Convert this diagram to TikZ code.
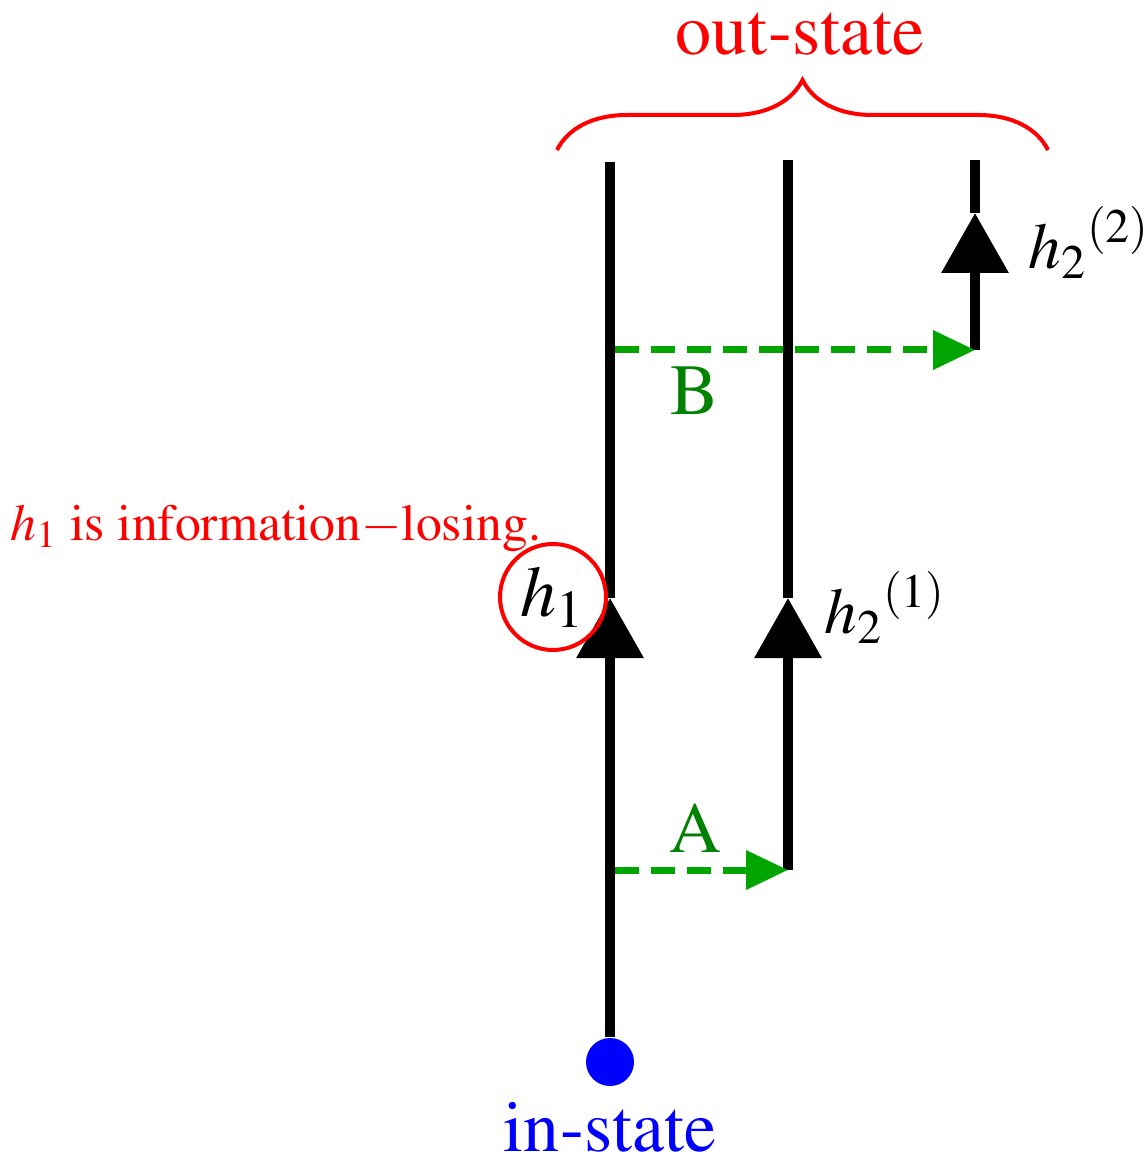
\documentclass[tikz,border=0pt]{standalone}
\usepackage[T1]{fontenc}
\usepackage{mathptmx}
\usetikzlibrary{arrows.meta,decorations.pathreplacing}
\definecolor{jumpgreen}{RGB}{0,165,0}
\definecolor{labelgreen}{RGB}{0,130,0}

\tikzset{
  worldline/.style={line width=1mm, black},
  flowhead/.style={-{Triangle[length=6mm,width=6.5mm]}},
  jump/.style={jumpgreen, line width=0.7mm, dash pattern=on 2.4mm off 1.2mm, -{Triangle[length=4.2mm,width=3.8mm]}},
  biglabel/.style={font=\fontsize{20.5}{24}\selectfont},
  hlabel/.style={font=\fontsize{18.5}{22}\selectfont, anchor=west, inner sep=0pt},
}

\begin{document}
\begin{tikzpicture}[x=0.1mm,y=-0.1mm]
  \useasboundingbox (0,0) rectangle (1146,1163);
  % end points of the three lines
  \coordinate (topone) at (610,162);
  \coordinate (toptwo) at (788,160);
  \coordinate (topthree) at (975,160);
  \coordinate (tipone) at (610,598);
  \coordinate (tiptwo) at (788,598);
  \coordinate (tipthree) at (975,213);
  \coordinate (asrc) at (615,870); \coordinate (afoot) at (788,870);
  \coordinate (bsrc) at (615,350); \coordinate (bfoot) at (975,350);

  \node[circle, fill=blue, inner sep=0pt, minimum size=4.8mm] (instate) at (610,1062) {};
  \node[biglabel, blue, inner sep=0pt] (inlabel) at (610,1127) {in-state};

  \draw[worldline, flowhead] (instate) -- (tipone);
  \draw[worldline] (tipone) -- (topone);
  \draw[worldline, flowhead] (afoot) -- (tiptwo);
  \draw[worldline] (tiptwo) -- (toptwo);
  \draw[worldline, flowhead] (bfoot) -- (tipthree);
  \draw[worldline] (tipthree) -- (topthree);

  \draw[jump] (asrc) -- (afoot);
  \draw[jump] (bsrc) -- (bfoot);
  \node[biglabel, labelgreen] (alabel) at (695,828) {A};
  \node[biglabel, labelgreen] (blabel) at (695,391) {B};

  \node[biglabel, circle, draw=red, line width=0.4mm, minimum size=10.6mm, inner sep=0pt] (hone) at (553,597) {$h_1$};
  \node[hlabel] (htwoa) at (824,607) {${h_2}^{(1)}$};
  \node[hlabel] (htwob) at (1028,242) {${h_2}^{(2)}$};
  \node[red, anchor=base west, inner sep=0pt, font=\fontsize{14.7}{18}\selectfont] (losing) at (10,540) {$h_1$ is information$-$losing.};

  \draw[red, line width=0.4mm, decorate, decoration={brace, amplitude=7mm}] (557,150) -- (1048,150);
  \node[biglabel, red] (outlabel) at (800,35) {out-state};
\end{tikzpicture}
\end{document}
